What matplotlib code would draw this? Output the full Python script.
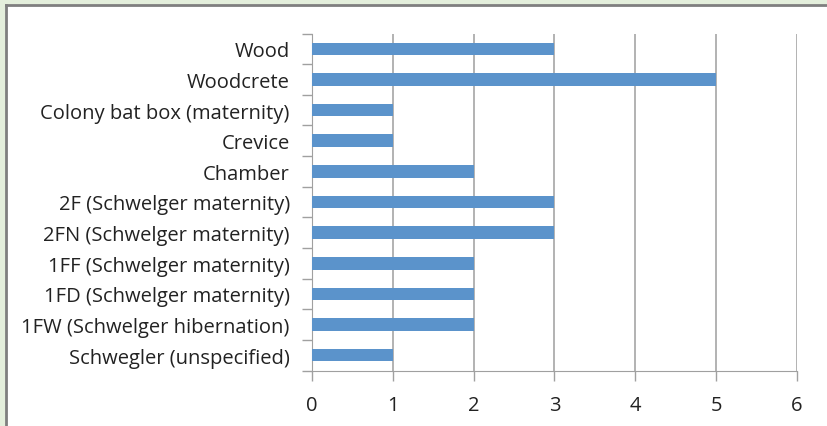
import matplotlib
matplotlib.use('Agg')
import matplotlib.pyplot as plt
from matplotlib.patches import Rectangle
from matplotlib.lines import Line2D
import numpy as np

# Box types (top to bottom) and counts
categories = [
    'Wood',
    'Woodcrete',
    'Colony bat box (maternity)',
    'Crevice',
    'Chamber',
    '2F (Schwelger maternity)',
    '2FN (Schwelger maternity)',
    '1FF (Schwelger maternity)',
    '1FD (Schwelger maternity)',
    '1FW (Schwelger hibernation)',
    'Schwegler (unspecified)',
]
counts = [3, 5, 1, 1, 2, 3, 3, 2, 2, 2, 1]
x_ticks = [0, 1, 2, 3, 4, 5, 6]

plt.rcParams['font.family'] = ['Open Sans', 'DejaVu Sans']

fig = plt.figure(figsize=(8.28, 4.27), dpi=100, facecolor='white')

# pale green frame strip with grey border line (top and left)
W, H = 828, 427
fig.patches.append(Rectangle((0, 1 - 5 / H), 1, 5 / H, transform=fig.transFigure,
                             color='#e4efdc', zorder=0))
fig.patches.append(Rectangle((0, 0), 5 / W, 1, transform=fig.transFigure,
                             color='#e4efdc', zorder=0))
fig.lines.append(Line2D([6 / W, 6 / W], [0, 1 - 5.5 / H], transform=fig.transFigure,
                        color='#7f7f7f', lw=2))
fig.lines.append(Line2D([6 / W, 1], [1 - 5.5 / H, 1 - 5.5 / H], transform=fig.transFigure,
                        color='#7f7f7f', lw=2))

ax = fig.add_axes([312 / W, 1 - 371.5 / H, (797 - 312) / W, (371.5 - 34.5) / H])

y = np.arange(len(categories))[::-1]
ax.barh(y, counts, height=0.41, color='#5b93cb', zorder=3)

ax.set_xlim(0, 6)
ax.set_ylim(-0.5, len(categories) - 0.5)
ax.set_xticks(x_ticks)
ax.set_xticklabels([str(t) for t in x_ticks], fontsize=14.5, color='#222222')
ax.set_yticks(y)
ax.set_yticklabels(categories, fontsize=14.5, color='#222222')

# category boundary ticks on the y axis
ax.set_yticks(np.arange(-0.5, len(categories), 1), minor=True)
ax.tick_params(axis='y', which='major', length=0, pad=16)
ax.tick_params(axis='y', which='minor', length=7, color='#a0a0a0', width=1)
ax.tick_params(axis='x', length=7, color='#a0a0a0', width=1, pad=11)

ax.grid(axis='x', color='#a6a6a6', lw=1.2, zorder=1)
for side in ['top', 'right']:
    ax.spines[side].set_visible(False)
ax.spines['left'].set_color('#a0a0a0')
ax.spines['bottom'].set_color('#a0a0a0')

fig.savefig('out.png', dpi=100, facecolor='white')
